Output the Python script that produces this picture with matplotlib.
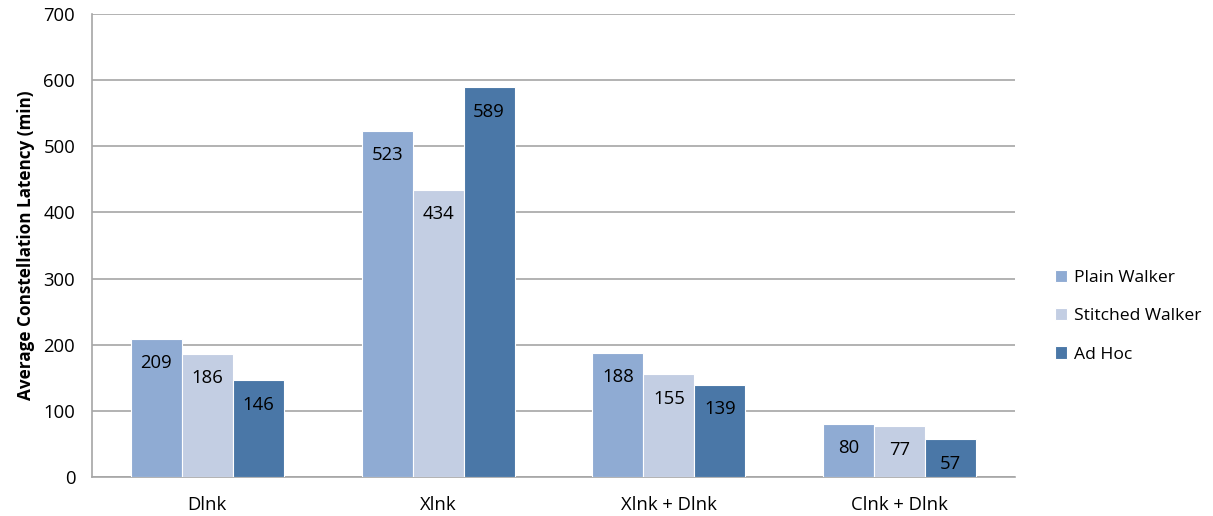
import numpy as np
import matplotlib.pyplot as plt

plt.rcParams['font.family'] = ['Open Sans', 'DejaVu Sans']

categories = ["Dlnk", "Xlnk", "Xlnk + Dlnk", "Clnk + Dlnk"]
plain_walker = [209, 523, 188, 80]
stitched_walker = [186, 434, 155, 77]
ad_hoc = [146, 589, 139, 57]

series = [("Plain Walker", plain_walker, "#8FABD3"),
          ("Stitched Walker", stitched_walker, "#C3CEE3"),
          ("Ad Hoc", ad_hoc, "#4A77A7")]

fig = plt.figure(figsize=(12.13, 5.16), dpi=100)
ax = fig.add_axes([0.0758, 0.0756, 0.761, 0.8973])

x = np.arange(len(categories))
w = 0.221
for k, (name, vals, col) in enumerate(series):
    pos = x + (k - 1) * w
    bars = ax.bar(pos, vals, w, color=col, edgecolor="white", linewidth=0.8,
                  label=name, zorder=3)
    for b, v in zip(bars, vals):
        ax.annotate(str(v), (b.get_x() + b.get_width() / 2, v),
                    xytext=(0, -17.5), textcoords="offset points",
                    ha="center", va="center", fontsize=13.3, color="black", zorder=4)

ax.set_xlim(-0.5, 3.5)
ax.set_ylim(0, 700)
ax.set_yticks(range(0, 701, 100))
ax.set_xticks(x)
ax.set_xticklabels(categories)
ax.yaxis.grid(True, color="#A6A6A6", linewidth=1.2, zorder=0)
for s in ["top", "right"]:
    ax.spines[s].set_visible(False)
for s in ["left", "bottom"]:
    ax.spines[s].set_color("#A6A6A6")
    ax.spines[s].set_linewidth(1.2)
ax.tick_params(axis="both", length=0, labelsize=13.3)
ax.tick_params(axis="y", pad=12)
ax.tick_params(axis="x", pad=14)
ax.set_ylabel("Average Constellation Latency (min)", fontsize=12.3,
              fontweight="bold", labelpad=6)

ax.legend(loc="center left", bbox_to_anchor=(1.026, 0.347), frameon=False,
          fontsize=12.6, handlelength=0.7, handleheight=0.7, handletextpad=0.4,
          labelspacing=1.25)

fig.savefig("out.png", dpi=100)
